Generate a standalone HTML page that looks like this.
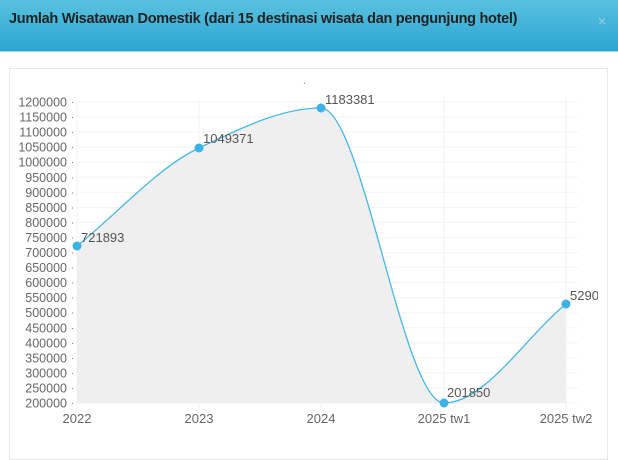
<!DOCTYPE html>
<html><head><meta charset="utf-8"><style>
body{margin:0;width:618px;height:450px;overflow:hidden;background:#fff;font-family:"Liberation Sans",sans-serif}
.hd{position:absolute;left:0;top:0;width:618px;height:51px;background:linear-gradient(#5ac1e0,#2aa6d2);border-bottom:1px solid #9fd6ea}
.hd span{position:absolute;left:9px;top:11px;font-size:14.5px;font-weight:bold;color:#222;letter-spacing:-0.3px}
.hd b{position:absolute;left:598px;top:13px;font-size:14px;color:#9bcfe3;font-weight:normal}
.card{position:absolute;left:9px;top:68px;width:597px;height:390px;border:1px solid #e6e6e6}
svg{position:absolute;left:0;top:0}
</style></head><body>
<div class="hd"><span>Jumlah Wisatawan Domestik (dari 15 destinasi wisata dan pengunjung hotel)</span><b>×</b></div>
<div class="card"></div>
<svg width="618" height="450" font-family="Liberation Sans, sans-serif" font-size="12.5" fill="#666">
<defs><clipPath id="c"><rect x="0" y="0" width="598" height="450"/></clipPath></defs>
<g stroke="#f0f0f0" stroke-width="1">
<line x1="77" y1="102" x2="77" y2="408"/><line x1="199" y1="98" x2="199" y2="408"/><line x1="321" y1="98" x2="321" y2="408"/><line x1="444" y1="98" x2="444" y2="408"/><line x1="566" y1="98" x2="566" y2="408"/>
</g>
<g id="gl" stroke="#f3f3f3"></g>
<path d="M77,246 C117.7,213.3 158.3,167.1 199,148 C239.7,128.9 280.3,108 321,108 C362,108 403,403 444,403 C485,403 525.3,337 566,304 L566,403 L77,403 Z" fill="#efefef"/>
<path d="M77,246 C117.7,213.3 158.3,167.1 199,148 C239.7,128.9 280.3,108 321,108 C362,108 403,403 444,403 C485,403 525.3,337 566,304" fill="none" stroke="#45b7e5" stroke-width="1.3"/>
<g fill="#3db2e6"><circle cx="77" cy="246" r="4.5"/><circle cx="199" cy="148" r="4.5"/><circle cx="321" cy="108" r="4.5"/><circle cx="444" cy="403" r="4.5"/><circle cx="566" cy="304" r="4.5"/></g>
<g font-size="13" fill="#555" clip-path="url(#c)">
<text x="81" y="242">721893</text><text x="203" y="143">1049371</text><text x="325" y="104">1183381</text><text x="447" y="397">201850</text><text x="570" y="300">529077</text>
</g>
<text x="303" y="84" font-size="10">.</text>
<g id="yl" text-anchor="end"></g>
<g text-anchor="middle" font-size="13">
<text x="77" y="423">2022</text><text x="199" y="423">2023</text><text x="321" y="423">2024</text><text x="444" y="423">2025 tw1</text><text x="566" y="423">2025 tw2</text>
</g>
</svg>
<script>
var yl=document.getElementById('yl'),gl=document.getElementById('gl'),s='';var g='';
for(var i=0;i<=20;i++){var v=1200000-i*50000,y=102+i*15.05;
s+='<text x="67" y="'+(y+4.5)+'">'+v+'</text><text x="71" y="'+(y+3)+'" text-anchor="start" font-size="9">·</text>';
g+='<line x1="77" y1="'+y+'" x2="578" y2="'+y+'"/>';}
yl.innerHTML=s;gl.innerHTML=g;
</script>
</body></html>
